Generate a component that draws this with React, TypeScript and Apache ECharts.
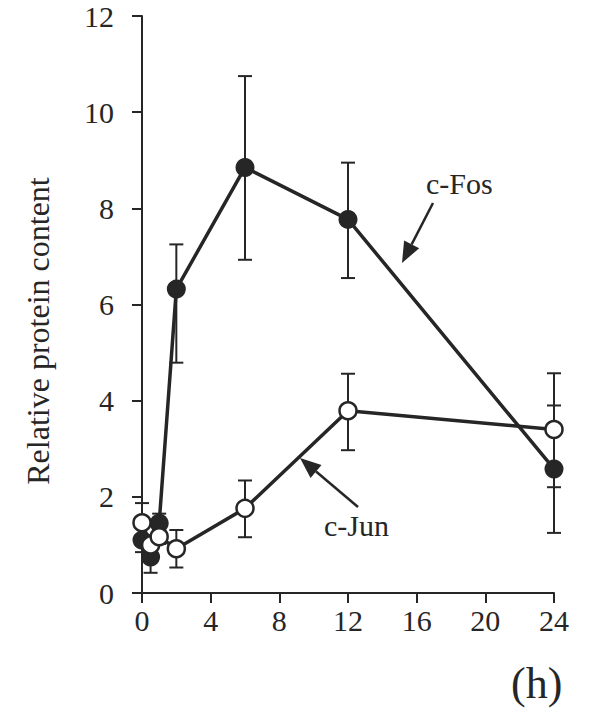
import React, { useEffect, useRef } from "react";
import * as echarts from "echarts";

const hours = [0, 0.5, 1, 2, 6, 12, 24];
const cFos = [1.1, 0.75, 1.45, 6.32, 8.85, 7.77, 2.58];
const cFosLow = [0.85, 0.42, 1.25, 4.79, 6.93, 6.55, 1.25];
const cFosHigh = [1.35, 1.08, 1.65, 7.25, 10.75, 8.95, 3.9];
const cJun = [1.46, 1.0, 1.17, 0.92, 1.76, 3.79, 3.4];
const cJunLow = [1.05, 0.8, 1.02, 0.53, 1.16, 2.97, 2.2];
const cJunHigh = [1.87, 1.2, 1.32, 1.31, 2.34, 4.56, 4.57];
const xTicks = [0, 4, 8, 12, 16, 20, 24];
const yTicks = [0, 2, 4, 6, 8, 10, 12];
const yTitle = "Relative protein content";

const INK = "#262626";
const FONT = "'Liberation Serif', 'DejaVu Serif', serif";

function arrow(tail: number[], tip: number[], headLen: number, headHalf: number) {
  const dx = tip[0] - tail[0];
  const dy = tip[1] - tail[1];
  const len = Math.hypot(dx, dy);
  const ux = dx / len, uy = dy / len;
  const bx = tip[0] - ux * headLen, by = tip[1] - uy * headLen;
  const nx = -uy * headHalf, ny = ux * headHalf;
  return [
    { type: "line", shape: { x1: tail[0], y1: tail[1], x2: bx, y2: by }, style: { stroke: INK, lineWidth: 2.5 }, z: 10 },
    { type: "polygon", shape: { points: [[tip[0], tip[1]], [bx + nx, by + ny], [bx - nx, by - ny]] }, style: { fill: INK }, z: 10 },
  ];
}

function errData(low: number[], high: number[]) {
  return hours.map((h, i) => [h, low[i], high[i]]);
}

function renderErr(params: any, api: any) {
  const x = api.value(0);
  const lo = api.coord([x, api.value(1)]);
  const hi = api.coord([x, api.value(2)]);
  const w = 7;
  const st = { stroke: INK, lineWidth: 2 };
  return {
    type: "group",
    children: [
      { type: "line", shape: { x1: lo[0], y1: lo[1], x2: hi[0], y2: hi[1] }, style: st },
      { type: "line", shape: { x1: lo[0] - w, y1: lo[1], x2: lo[0] + w, y2: lo[1] }, style: st },
      { type: "line", shape: { x1: hi[0] - w, y1: hi[1], x2: hi[0] + w, y2: hi[1] }, style: st },
    ],
  };
}

export default function App() {
  const ref = useRef<HTMLDivElement>(null);
  useEffect(() => {
    document.body.style.margin = "0";
    const chart = echarts.init(ref.current!, null, { renderer: "svg" });
    chart.setOption({
      animation: false,
      backgroundColor: "#ffffff",
      grid: { left: 142, right: 39, top: 16, bottom: 126 },
      xAxis: {
        type: "value",
        min: 0,
        max: 24,
        interval: 4,
        axisLine: { show: true, onZero: false, lineStyle: { color: INK, width: 2 } },
        axisTick: { show: true, inside: false, length: 10, lineStyle: { color: INK, width: 2 } },
        axisLabel: { color: INK, fontFamily: FONT, fontSize: 30, margin: 12, formatter: (v: number) => (xTicks.includes(v) ? String(v) : "") },
        splitLine: { show: false },
      },
      yAxis: {
        type: "value",
        min: 0,
        max: 12,
        interval: 2,
        axisLine: { show: true, onZero: false, lineStyle: { color: INK, width: 2 } },
        axisTick: { show: true, inside: false, length: 10, lineStyle: { color: INK, width: 2 } },
        axisLabel: { color: INK, fontFamily: FONT, fontSize: 30, margin: 28, formatter: (v: number) => (yTicks.includes(v) ? String(v) : "") },
        splitLine: { show: false },
      },
      series: [
        { type: "custom", name: "c-Fos err", data: errData(cFosLow, cFosHigh), renderItem: renderErr, z: 1, silent: true },
        { type: "custom", name: "c-Jun err", data: errData(cJunLow, cJunHigh), renderItem: renderErr, z: 1, silent: true },
        {
          type: "line",
          name: "c-Fos",
          data: hours.map((h, i) => [h, cFos[i]]),
          symbol: "circle",
          symbolSize: 19,
          lineStyle: { color: INK, width: 3.5 },
          itemStyle: { color: INK, borderColor: INK, borderWidth: 0 },
          z: 3,
        },
        {
          type: "line",
          name: "c-Jun",
          data: hours.map((h, i) => [h, cJun[i]]),
          symbol: "circle",
          symbolSize: 17,
          lineStyle: { color: INK, width: 3.5 },
          itemStyle: { color: "#ffffff", borderColor: INK, borderWidth: 2.5 },
          z: 4,
        },
      ],
      graphic: [
        {
          type: "text",
          x: 38,
          y: 331,
          rotation: Math.PI / 2,
          style: { text: yTitle, font: `32px ${FONT}`, fill: INK, align: "center", verticalAlign: "middle" },
          z: 10,
        },
        { type: "text", left: 426, top: 168, style: { text: "c-Fos", font: `30px ${FONT}`, fill: INK }, z: 10 },
        { type: "text", left: 324, top: 510, style: { text: "c-Jun", font: `30px ${FONT}`, fill: INK }, z: 10 },
        { type: "text", left: 511, top: 661, style: { text: "(h)", font: `44px ${FONT}`, fill: INK }, z: 10 },
        ...arrow([433, 203], [402, 263], 21, 8.5),
        ...arrow([358, 507], [300, 458], 21, 8.5),
      ],
    });
    return () => chart.dispose();
  }, []);
  return <div ref={ref} style={{ width: 593, height: 719 }} />;
}
